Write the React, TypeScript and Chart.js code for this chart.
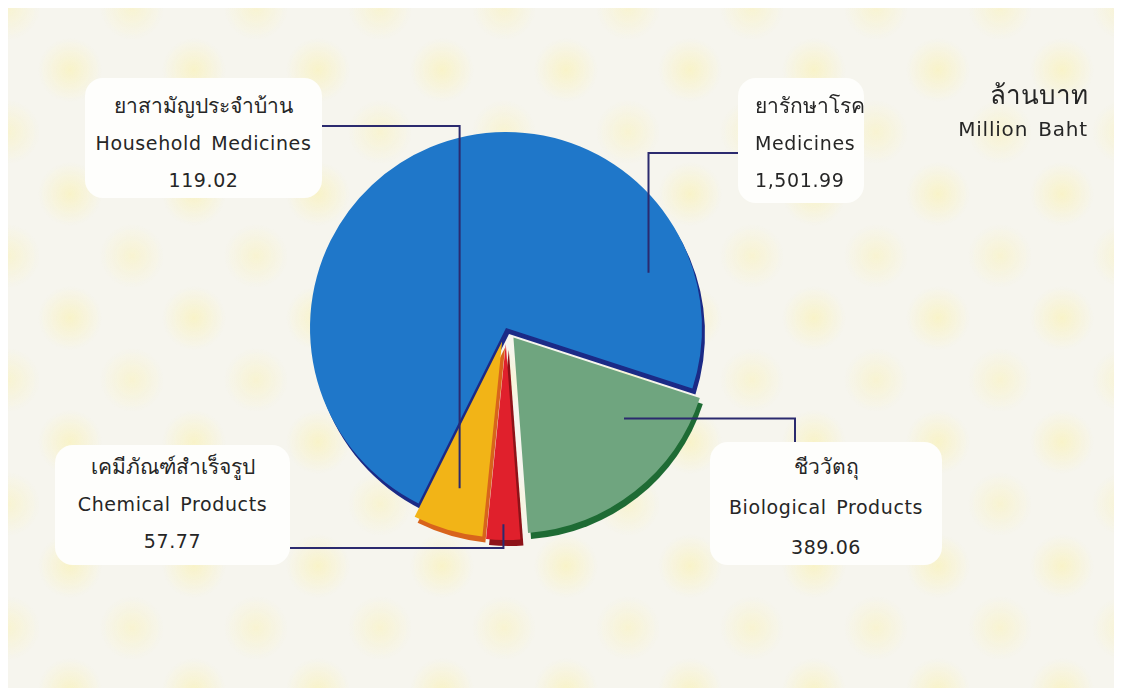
import React, { useEffect, useRef } from 'react';
import { Chart, registerables } from 'chart.js';

Chart.register(...registerables);

// ---------- data ----------
const categoriesTh = ['ยารักษาโรค', 'ชีววัตถุ', 'เคมีภัณฑ์สำเร็จรูป', 'ยาสามัญประจำบ้าน'];
const categoriesEn = ['Medicines', 'Biological Products', 'Chemical Products', 'Household Medicines'];
const values = [1501.99, 389.06, 57.77, 119.02];
const valueLabels = ['1,501.99', '389.06', '57.77', '119.02'];
const unitTh = 'ล้านบาท';
const unitEn = 'Million Baht';

// ---------- style / layout ----------
const W = 1106;
const H = 680;
const COLORS = ['#1f77c9', '#6fa57f', '#e0202c', '#f2b417'];
const SHADOWS = ['#1b2a86', '#1e6b34', '#8e1218', '#d8641c'];
const EXPLODE = [0, 12, 16, 14];
const SHADOW_DX = 3;
const SHADOW_DY = 6;
const LINE_COLOR = '#2b2a6e';
const FONT = '"DejaVu Sans", "Noto Sans", sans-serif';

type Box = {
  left: number; top: number; w: number; h: number;
  align: 'left' | 'center'; padL: number; padT: number; lh: number;
};
const BOXES: Box[] = [
  { left: 730, top: 70, w: 126, h: 125, align: 'left', padL: 17, padT: 10, lh: 37 },
  { left: 702, top: 434, w: 232, h: 123, align: 'center', padL: 0, padT: 5, lh: 40 },
  { left: 47, top: 437, w: 235, h: 120, align: 'center', padL: 0, padT: 4, lh: 37 },
  { left: 77, top: 70, w: 237, h: 120, align: 'center', padL: 0, padT: 10, lh: 37 },
];

// leader lines: start point on the box, then an elbow to an anchor in the slice
const LEADERS = [
  { sx: 730, sy: 145, mode: 'h', angleFrac: 0.85, radiusFrac: 0.78 },
  { sx: 787, sy: 434, mode: 'v', angleFrac: 0.27, radiusFrac: 0.7 },
  { sx: 282, sy: 540, mode: 'h', angleFrac: 0.5, radiusFrac: 0.92 },
  { sx: 314, sy: 118, mode: 'h', angleFrac: 0.5, radiusFrac: 0.78 },
];

const explodedPiePlugin = {
  id: 'explodedPie',
  beforeDatasetDraw(chart: any, args: any) {
    const ctx = chart.ctx as CanvasRenderingContext2D;
    const arcs = args.meta.data;
    // 3D rim / shadow
    arcs.forEach((arc: any, i: number) => {
      const p = arc.getProps(['x', 'y', 'startAngle', 'endAngle', 'outerRadius'], true);
      const mid = (p.startAngle + p.endAngle) / 2;
      const e = EXPLODE[i] || 0;
      ctx.save();
      ctx.translate(Math.cos(mid) * e + SHADOW_DX, Math.sin(mid) * e + SHADOW_DY);
      ctx.beginPath();
      ctx.moveTo(p.x, p.y);
      ctx.arc(p.x, p.y, p.outerRadius, p.startAngle, p.endAngle);
      ctx.closePath();
      ctx.fillStyle = SHADOWS[i];
      ctx.fill();
      ctx.restore();
    });
    // slices
    arcs.forEach((arc: any, i: number) => {
      const p = arc.getProps(['startAngle', 'endAngle'], true);
      const mid = (p.startAngle + p.endAngle) / 2;
      const e = EXPLODE[i] || 0;
      ctx.save();
      ctx.translate(Math.cos(mid) * e, Math.sin(mid) * e);
      arc.draw(ctx);
      ctx.restore();
    });
    return false;
  },
  afterDatasetsDraw(chart: any) {
    const ctx = chart.ctx as CanvasRenderingContext2D;
    const arcs = chart.getDatasetMeta(0).data;
    ctx.save();
    ctx.strokeStyle = LINE_COLOR;
    ctx.lineWidth = 2;
    LEADERS.forEach((L, i) => {
      const arc = arcs[i];
      if (!arc) return;
      const p = arc.getProps(['x', 'y', 'startAngle', 'endAngle', 'outerRadius'], true);
      const mid = (p.startAngle + p.endAngle) / 2;
      const e = EXPLODE[i] || 0;
      const a = p.startAngle + (p.endAngle - p.startAngle) * L.angleFrac;
      const r = p.outerRadius * L.radiusFrac;
      const ax = p.x + Math.cos(mid) * e + Math.cos(a) * r;
      const ay = p.y + Math.sin(mid) * e + Math.sin(a) * r;
      ctx.beginPath();
      ctx.moveTo(L.sx, L.sy);
      if (L.mode === 'h') {
        ctx.lineTo(ax, L.sy);
      } else {
        ctx.lineTo(L.sx, ay);
      }
      ctx.lineTo(ax, ay);
      ctx.stroke();
    });
    ctx.restore();
  },
};

export default function App() {
  const canvasRef = useRef<HTMLCanvasElement | null>(null);

  useEffect(() => {
    if (!canvasRef.current) return;
    const chart = new Chart(canvasRef.current, {
      type: 'pie',
      data: {
        labels: categoriesEn,
        datasets: [
          {
            data: values,
            backgroundColor: COLORS,
            borderWidth: 0,
            offset: 0,
          },
        ],
      },
      options: {
        animation: false,
        responsive: true,
        maintainAspectRatio: false,
        rotation: -153.5,
        radius: 196,
        layout: { padding: { left: 0, right: 110, top: 0, bottom: 40 } },
        plugins: {
          legend: { display: false },
          tooltip: { enabled: false },
        },
        events: [],
      },
      plugins: [explodedPiePlugin],
    });
    return () => chart.destroy();
  }, []);

  const enStyle = { fontSize: 19, letterSpacing: 0.6, wordSpacing: 3 };

  return (
    <div
      style={{
        position: 'relative',
        width: W,
        height: H,
        backgroundColor: '#f6f5ee',
        backgroundImage:
          'radial-gradient(circle at 50% 50%, rgba(252,240,150,0.42) 0px, rgba(252,240,150,0) 32px), radial-gradient(circle at 50% 50%, rgba(252,240,150,0.32) 0px, rgba(252,240,150,0) 32px)',
        backgroundSize: '124px 124px, 124px 124px',
        backgroundPosition: '0px 0px, 62px 62px',
        fontFamily: FONT,
        overflow: 'hidden',
      }}
    >
      <canvas ref={canvasRef} style={{ position: 'absolute', left: 0, top: 0 }} />
      {BOXES.map((b, i) => (
        <div
          key={i}
          style={{
            position: 'absolute',
            left: b.left,
            top: b.top,
            width: b.w,
            height: b.h,
            boxSizing: 'border-box',
            background: '#fefefc',
            borderRadius: 18,
            paddingTop: b.padT,
            paddingLeft: b.padL,
            textAlign: b.align,
            color: '#262626',
            lineHeight: `${b.lh}px`,
            whiteSpace: 'nowrap',
          }}
        >
          <div style={{ fontSize: 21 }}>{categoriesTh[i]}</div>
          <div style={enStyle}>{categoriesEn[i]}</div>
          <div style={{ fontSize: 19, letterSpacing: 0.6 }}>{valueLabels[i]}</div>
        </div>
      ))}
      <div
        style={{
          position: 'absolute',
          right: W - 1080,
          top: 70,
          textAlign: 'right',
          color: '#262626',
          lineHeight: '34px',
          whiteSpace: 'nowrap',
        }}
      >
        <div style={{ fontSize: 26 }}>{unitTh}</div>
        <div style={{ fontSize: 20, letterSpacing: 0.8, wordSpacing: 3 }}>{unitEn}</div>
      </div>
    </div>
  );
}
